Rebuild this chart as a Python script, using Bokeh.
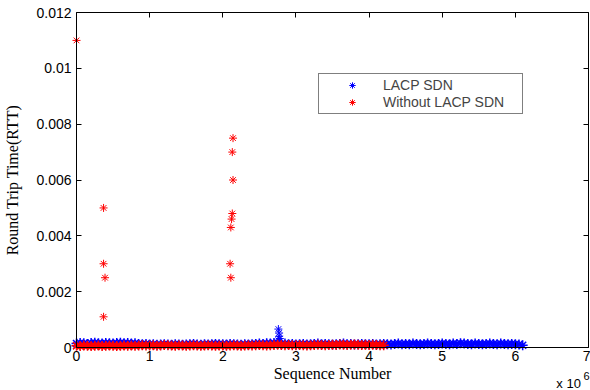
from bokeh.plotting import figure
from bokeh.models import (FixedTicker, CustomJSTickFormatter, LinearAxis, Legend,
                          LegendItem, Label, Range1d)
from bokeh.embed import file_html
from bokeh.resources import INLINE

# ---- data (sequence number in units of 1e6, RTT in seconds) ----
blue_seq = [0.00, 0.05, 0.10, 0.15, 0.20, 0.25, 0.30, 0.35, 0.40, 0.45,
            0.50, 0.55, 0.60, 0.65, 0.70, 0.75, 0.80, 0.85, 0.90, 0.95,
            1.00, 1.05, 1.10, 1.15, 1.20, 1.25, 1.30, 1.35, 1.40, 1.45,
            1.50, 1.55, 1.60, 1.65, 1.70, 1.75, 1.80, 1.85, 1.90, 1.95,
            2.00, 2.05, 2.10, 2.15, 2.20, 2.25, 2.30, 2.35, 2.40, 2.45,
            2.50, 2.55, 2.60, 2.65, 2.70, 2.75, 2.80, 2.85, 2.90, 2.95,
            3.00, 3.05, 3.10, 3.15, 3.20, 3.25, 3.30, 3.35, 3.40, 3.45,
            3.50, 3.55, 3.60, 3.65, 3.70, 3.75, 3.80, 3.85, 3.90, 3.95,
            4.00, 4.05, 4.10, 4.15, 4.20, 4.25, 4.30, 4.35, 4.40, 4.45,
            4.50, 4.55, 4.60, 4.65, 4.70, 4.75, 4.80, 4.85, 4.90, 4.95,
            5.00, 5.05, 5.10, 5.15, 5.20, 5.25, 5.30, 5.35, 5.40, 5.45,
            5.50, 5.55, 5.60, 5.65, 5.70, 5.75, 5.80, 5.85, 5.90, 5.95,
            6.00, 6.05, 6.10]
blue_rtt = [0.00014, 0.00016, 0.00015, 0.00013, 0.00016, 0.00017, 0.00015, 0.00014, 0.00016, 0.00015,
            0.00014, 0.00016, 0.00017, 0.00015, 0.00016, 0.00014, 0.00015, 0.00013, 0.00012, 0.00013,
            0.00011, 0.00012, 0.00010, 0.00011, 0.00012, 0.00011, 0.00010, 0.00012, 0.00011, 0.00010,
            0.00011, 0.00012, 0.00013, 0.00011, 0.00010, 0.00012, 0.00011, 0.00012, 0.00013, 0.00012,
            0.00012, 0.00011, 0.00013, 0.00012, 0.00011, 0.00010, 0.00012, 0.00011, 0.00012, 0.00013,
            0.00014, 0.00013, 0.00015, 0.00014, 0.00016, 0.00015, 0.00013, 0.00014, 0.00012, 0.00013,
            0.00011, 0.00012, 0.00013, 0.00011, 0.00012, 0.00013, 0.00014, 0.00012, 0.00013, 0.00012,
            0.00011, 0.00012, 0.00013, 0.00014, 0.00012, 0.00013, 0.00011, 0.00012, 0.00013, 0.00012,
            0.00012, 0.00013, 0.00011, 0.00012, 0.00013, 0.00012, 0.00011, 0.00013, 0.00014, 0.00012,
            0.00013, 0.00012, 0.00014, 0.00013, 0.00012, 0.00013, 0.00014, 0.00013, 0.00012, 0.00013,
            0.00014, 0.00013, 0.00012, 0.00014, 0.00013, 0.00015, 0.00014, 0.00013, 0.00012, 0.00014,
            0.00013, 0.00012, 0.00013, 0.00014, 0.00013, 0.00012, 0.00014, 0.00013, 0.00012, 0.00013,
            0.00012, 0.00011, 0.00008]
blue_spike_seq = [2.76, 2.77, 2.77, 2.78, 2.76]
blue_spike_rtt = [0.00066, 0.00052, 0.00040, 0.00032, 0.00026]

red_seq = [0.00, 0.05, 0.10, 0.15, 0.20, 0.25, 0.30, 0.35, 0.40, 0.45,
           0.50, 0.55, 0.60, 0.65, 0.70, 0.75, 0.80, 0.85, 0.90, 0.95,
           1.00, 1.05, 1.10, 1.15, 1.20, 1.25, 1.30, 1.35, 1.40, 1.45,
           1.50, 1.55, 1.60, 1.65, 1.70, 1.75, 1.80, 1.85, 1.90, 1.95,
           2.00, 2.05, 2.10, 2.15, 2.20, 2.25, 2.30, 2.35, 2.40, 2.45,
           2.50, 2.55, 2.60, 2.65, 2.70, 2.75, 2.80, 2.85, 2.90, 2.95,
           3.00, 3.05, 3.10, 3.15, 3.20, 3.25, 3.30, 3.35, 3.40, 3.45,
           3.50, 3.55, 3.60, 3.65, 3.70, 3.75, 3.80, 3.85, 3.90, 3.95,
           4.00, 4.05, 4.10, 4.15, 4.20]
red_rtt = [0.00006, 0.00005, 0.00007, 0.00006, 0.00005, 0.00006, 0.00007, 0.00005, 0.00006, 0.00007,
           0.00006, 0.00005, 0.00006, 0.00007, 0.00006, 0.00007, 0.00006, 0.00007, 0.00008, 0.00007,
           0.00007, 0.00008, 0.00006, 0.00007, 0.00009, 0.00008, 0.00007, 0.00006, 0.00008, 0.00007,
           0.00006, 0.00007, 0.00008, 0.00007, 0.00006, 0.00007, 0.00008, 0.00007, 0.00006, 0.00007,
           0.00007, 0.00006, 0.00007, 0.00008, 0.00007, 0.00006, 0.00007, 0.00008, 0.00007, 0.00008,
           0.00009, 0.00008, 0.00007, 0.00008, 0.00009, 0.00010, 0.00009, 0.00008, 0.00009, 0.00008,
           0.00008, 0.00009, 0.00008, 0.00007, 0.00008, 0.00009, 0.00010, 0.00009, 0.00008, 0.00009,
           0.00010, 0.00009, 0.00011, 0.00010, 0.00009, 0.00010, 0.00011, 0.00010, 0.00009, 0.00010,
           0.00009, 0.00010, 0.00009, 0.00008, 0.00008]
red_spike_seq = [0.0, 0.37, 0.37, 0.39, 0.37, 2.14, 2.13, 2.14, 2.13, 2.12, 2.11, 2.10, 2.11]
red_spike_rtt = [0.0110, 0.0050, 0.0030, 0.0025, 0.0011, 0.0075, 0.0070, 0.0060,
                 0.0048, 0.0046, 0.0043, 0.0030, 0.0025]

x_ticks = [0, 1, 2, 3, 4, 5, 6, 7]
y_ticks = [0, 0.002, 0.004, 0.006, 0.008, 0.010, 0.012]
x_lim = (0, 7)
y_lim = (0, 0.012)
series_labels = ["LACP SDN", "Without LACP SDN"]
x_title = "Sequence Number"
y_title = "Round Trip Time(RTT)"
x_multiplier = "x 10"
x_exponent = "6"

BLUE = "#0000ff"
RED = "#ff0000"
SANS = "Liberation Sans"
SERIF = "Liberation Serif"

# The frame spans the whole canvas; the four axes are pinned at the data limits so
# that markers on the edges are not cut and the axis texts are drawn inside the frame.
p = figure(width=590, height=390, output_backend="svg", toolbar_location=None,
           x_range=Range1d(-1.0391, 7.0273), y_range=Range1d(-0.00154, 0.01243),
           min_border_left=0, min_border_right=0, min_border_top=0, min_border_bottom=0)
p.background_fill_color = "white"
p.border_fill_color = "white"
p.outline_line_color = None
p.xgrid.visible = False
p.ygrid.visible = False

xa = p.xaxis[0]
xa.ticker = FixedTicker(ticks=x_ticks)
xa.formatter = CustomJSTickFormatter(code="return String(Math.round(tick));")
xa.fixed_location = y_lim[0]
xa.bounds = x_lim
ya = p.yaxis[0]
ya.ticker = FixedTicker(ticks=y_ticks)
ya.bounds = y_lim
ya.fixed_location = x_lim[0]
ya.formatter = CustomJSTickFormatter(
    code="return tick === 0 ? '0' : String(parseFloat(tick.toFixed(4)));")
for ax in (xa, ya):
    ax.major_tick_in = 5
    ax.major_tick_out = 0
    ax.minor_tick_line_color = None
    ax.axis_line_color = "black"
    ax.major_tick_line_color = "black"
    ax.major_label_text_font = SANS
    ax.major_label_text_font_size = "14px"
    ax.major_label_text_color = "black"
    ax.axis_label_text_font = SERIF
    ax.axis_label_text_font_size = "16px"
    ax.axis_label_text_font_style = "normal"
    ax.axis_label_text_color = "black"
xa.axis_label = x_title
ya.axis_label = y_title
xa.major_label_standoff = 3
xa.axis_label_standoff = 1
ya.major_label_standoff = 5
ya.axis_label_standoff = 12

blank = CustomJSTickFormatter(code="return '';")
top = LinearAxis(ticker=FixedTicker(ticks=x_ticks), formatter=blank, bounds=x_lim,
                 fixed_location=y_lim[1],
                 major_tick_in=5, major_tick_out=0, minor_tick_line_color=None,
                 major_label_standoff=0, axis_line_color="black")
right = LinearAxis(ticker=FixedTicker(ticks=y_ticks), formatter=blank, bounds=y_lim,
                   fixed_location=x_lim[1],
                   major_tick_in=5, major_tick_out=0, minor_tick_line_color=None,
                   major_label_standoff=0, axis_line_color="black")
p.add_layout(top, "above")
p.add_layout(right, "right")

rb = p.scatter(blue_seq, blue_rtt, marker="asterisk", size=10, line_color=BLUE, line_width=1.5)
rb2 = p.scatter(blue_spike_seq, blue_spike_rtt, marker="asterisk", size=8, line_color=BLUE, line_width=1)
rr = p.scatter(red_seq, red_rtt, marker="asterisk", size=10, line_color=RED, line_width=1.5)
rr2 = p.scatter(red_spike_seq, red_spike_rtt, marker="asterisk", size=8, line_color=RED, line_width=1)

legend = Legend(items=[LegendItem(label=series_labels[0], renderers=[rb2]),
                       LegendItem(label=series_labels[1], renderers=[rr2])],
                location=(318, 276), padding=3, spacing=1, glyph_width=60, glyph_height=16,
                label_height=16, label_width=136, label_standoff=1, margin=0,
                border_line_color="black", border_line_width=1,
                label_text_font=SANS, label_text_font_size="14px",
                background_fill_color="white", background_fill_alpha=1)
p.add_layout(legend)

p.add_layout(Label(x=6.56, y=-0.00128, text=x_multiplier,
                   text_font=SANS, text_font_size="13px", text_baseline="middle",
                   text_color="black"))
p.add_layout(Label(x=6.93, y=-0.00102, text=x_exponent,
                   text_font=SANS, text_font_size="11px", text_baseline="middle",
                   text_color="black"))

open("out.html", "w").write(file_html(p, INLINE))
